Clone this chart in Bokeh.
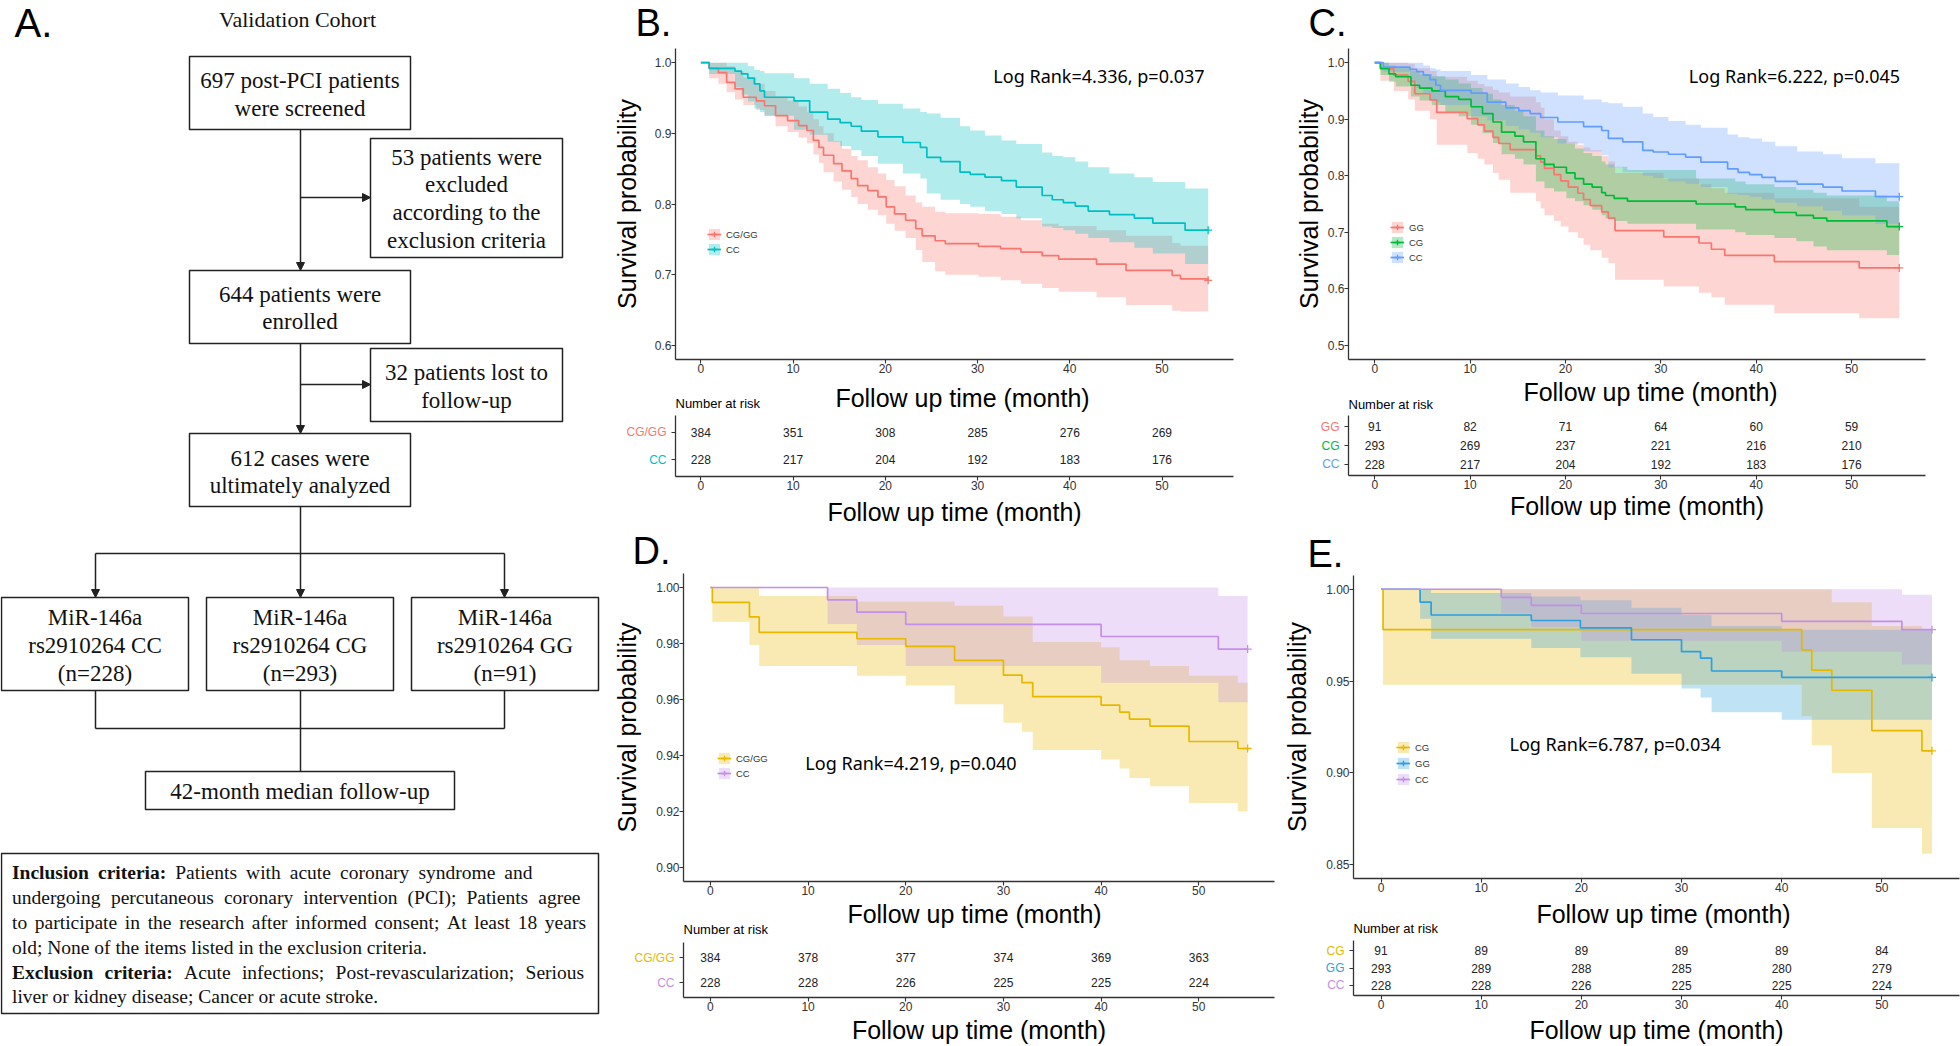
from bokeh.plotting import figure
from bokeh.models import (Range1d, FixedTicker, NumeralTickFormatter, Label, Legend,
                          LegendItem, Arrow, NormalHead)
from bokeh.layouts import row, column
from bokeh.embed import file_html
from bokeh.resources import INLINE
from bokeh.core.properties import value

SANS = "Liberation Sans"
SERIF = "Liberation Serif"
LR_FONT = "Noto Sans"
AXIS_COL = "#333333"
TICK_COL = "#333333"
X_RANGE = (-2.75, 57.75)
TIME_TICKS = [0, 10, 20, 30, 40, 50]
RISK_TIMES = [0, 10, 20, 30, 40, 50]
X_TITLE = "Follow up time (month)"
Y_TITLE = "Survival probability"

RED = "#F8766D"; TEAL = "#00BFC4"; GREEN = "#00BA38"; BLUE = "#619CFF"
GOLD = "#E7B800"; PURPLE = "#C38FE8"; SKY = "#2E9FDF"

# ---------------- survival data ----------------
B_CGGG_T = [0, 0.9, 1.9, 2.8, 3.7, 4.6, 6.0, 6.9, 8.1, 9.4, 10.6, 11.5, 12.2, 12.8, 13.3, 14.4, 15.3, 16.3, 17.0, 18.1,
            19.2, 20.1, 21.0, 22.2, 23.3, 24.0, 25.4, 26.5, 30.1, 32.5, 34.7, 37.0, 38.8, 42.9, 46.1, 51.1, 52.0, 55.0]
B_CGGG_S = [1.0, 0.992, 0.986, 0.972, 0.963, 0.951, 0.946, 0.939, 0.925, 0.918, 0.911, 0.904, 0.890, 0.880, 0.869, 0.857,
            0.847, 0.836, 0.826, 0.819, 0.810, 0.796, 0.786, 0.777, 0.765, 0.755, 0.748, 0.744, 0.740, 0.737, 0.732,
            0.727, 0.722, 0.715, 0.706, 0.699, 0.694, 0.692]
B_CGGG_HI = [1.0, 1.0, 1.0, 0.995, 0.987, 0.979, 0.970, 0.960, 0.952, 0.946, 0.938, 0.930, 0.920, 0.910, 0.900, 0.889,
             0.878, 0.868, 0.862, 0.852, 0.843, 0.834, 0.825, 0.812, 0.802, 0.796, 0.789, 0.787, 0.786, 0.782, 0.777,
             0.772, 0.769, 0.763, 0.755, 0.745, 0.741, 0.739]
B_CGGG_LO = [1.0, 0.978, 0.970, 0.958, 0.948, 0.940, 0.933, 0.925, 0.910, 0.902, 0.894, 0.886, 0.870, 0.858, 0.845, 0.832,
             0.820, 0.810, 0.800, 0.792, 0.784, 0.772, 0.762, 0.752, 0.735, 0.718, 0.705, 0.700, 0.697, 0.692, 0.687,
             0.681, 0.676, 0.668, 0.657, 0.649, 0.648, 0.647]
CC_T = [0, 0.9, 3.7, 4.4, 5.1, 5.8, 6.4, 6.9, 10.1, 11.8, 13.75, 15.1, 16.3, 17.4, 19.2, 21.9, 23.8, 24.5, 26.0, 28.1,
        29.2, 30.8, 32.6, 34.2, 37.0, 38.1, 39.3, 40.6, 42.0, 44.3, 47.0, 49.0, 52.5, 55.0]
CC_S = [1.0, 0.992, 0.988, 0.984, 0.978, 0.970, 0.960, 0.951, 0.946, 0.930, 0.920, 0.915, 0.910, 0.903, 0.895, 0.887,
        0.880, 0.866, 0.860, 0.845, 0.842, 0.838, 0.833, 0.824, 0.812, 0.806, 0.802, 0.797, 0.790, 0.785, 0.780, 0.773,
        0.763, 0.763]
CC_HI = [1.0, 1.0, 1.0, 1.0, 0.995, 0.990, 0.988, 0.985, 0.978, 0.970, 0.963, 0.957, 0.951, 0.947, 0.942, 0.935, 0.930,
         0.928, 0.922, 0.910, 0.904, 0.897, 0.890, 0.885, 0.873, 0.868, 0.866, 0.860, 0.852, 0.843, 0.838, 0.831,
         0.822, 0.820]
CC_LO = [1.0, 0.984, 0.965, 0.955, 0.945, 0.935, 0.930, 0.925, 0.905, 0.898, 0.888, 0.882, 0.876, 0.868, 0.857, 0.843,
         0.836, 0.815, 0.806, 0.800, 0.796, 0.790, 0.786, 0.780, 0.768, 0.766, 0.763, 0.758, 0.752, 0.746, 0.738,
         0.730, 0.715, 0.711]
C_GG_T = [0, 0.6, 2.0, 3.5, 4.2, 5.8, 6.5, 9.7, 10.8, 11.5, 12.4, 13.0, 14.2, 16.9, 17.4, 17.8, 18.8, 19.5, 20.3, 21.3,
          21.9, 22.6, 23.8, 24.5, 25.2, 30.3, 34.0, 35.3, 36.7, 41.9, 50.8, 55.0]
C_GG_S = [1.0, 0.989, 0.978, 0.967, 0.945, 0.934, 0.912, 0.901, 0.890, 0.879, 0.868, 0.857, 0.846, 0.835, 0.824, 0.813,
          0.802, 0.791, 0.780, 0.769, 0.758, 0.747, 0.736, 0.725, 0.703, 0.692, 0.681, 0.670, 0.659, 0.648, 0.637, 0.637]
C_GG_HI = [1.0, 1.0, 1.0, 0.998, 0.990, 0.985, 0.975, 0.968, 0.962, 0.958, 0.952, 0.947, 0.940, 0.930, 0.920, 0.900,
           0.880, 0.870, 0.860, 0.855, 0.850, 0.845, 0.835, 0.825, 0.805, 0.795, 0.785, 0.778, 0.770, 0.760, 0.745, 0.745]
C_GG_LO = [1.0, 0.968, 0.950, 0.935, 0.915, 0.900, 0.855, 0.840, 0.830, 0.820, 0.805, 0.793, 0.770, 0.755, 0.742, 0.730,
           0.720, 0.710, 0.700, 0.690, 0.678, 0.668, 0.655, 0.645, 0.616, 0.604, 0.593, 0.585, 0.572, 0.557, 0.548, 0.548]
C_CG_T = [0, 0.6, 1.5, 2.2, 3.8, 4.7, 6.0, 7.4, 8.8, 10.1, 11.3, 12.4, 13.3, 14.7, 15.6, 16.9, 17.8, 18.8, 20.1, 21.0,
          21.9, 22.8, 23.8, 24.2, 25.1, 26.5, 33.7, 37.8, 38.9, 41.9, 44.2, 46.0, 47.4, 53.7, 55.0]
C_CG_S = [1.0, 0.99, 0.98, 0.975, 0.96, 0.955, 0.95, 0.94, 0.935, 0.922, 0.91, 0.895, 0.877, 0.87, 0.86, 0.83, 0.82,
          0.815, 0.805, 0.795, 0.785, 0.78, 0.77, 0.765, 0.76, 0.755, 0.75, 0.745, 0.74, 0.735, 0.73, 0.725, 0.72,
          0.71, 0.71]
C_CG_HI = [1.0, 1.0, 0.995, 0.992, 0.985, 0.98, 0.976, 0.97, 0.963, 0.955, 0.945, 0.935, 0.925, 0.915, 0.905, 0.88,
           0.87, 0.865, 0.857, 0.848, 0.84, 0.835, 0.825, 0.82, 0.816, 0.81, 0.795, 0.79, 0.785, 0.78, 0.775, 0.77,
           0.765, 0.755, 0.755]
C_CG_LO = [1.0, 0.978, 0.966, 0.958, 0.94, 0.933, 0.925, 0.912, 0.905, 0.89, 0.875, 0.858, 0.838, 0.83, 0.82, 0.79,
           0.778, 0.772, 0.76, 0.755, 0.748, 0.74, 0.73, 0.725, 0.72, 0.715, 0.705, 0.70, 0.695, 0.69, 0.684, 0.675,
           0.668, 0.66, 0.66]
D_CGGG_T = [0, 0.2, 4.0, 5.0, 15.0, 20.0, 25.0, 30.0, 31.9, 33.0, 40.0, 41.9, 42.9, 45.0, 49.0, 54.0, 55.0]
D_CGGG_S = [1.0, 0.9947, 0.9895, 0.984, 0.9817, 0.979, 0.974, 0.9687, 0.966, 0.961, 0.958, 0.9555, 0.953, 0.9505,
            0.945, 0.9425, 0.9425]
D_CGGG_HI = [1.0, 1.0, 1.0, 0.997, 0.995, 0.995, 0.9935, 0.9896, 0.9896, 0.9805, 0.9787, 0.974, 0.974, 0.972, 0.9685,
             0.966, 0.966]
D_CGGG_LO = [1.0, 0.9878, 0.9795, 0.972, 0.9685, 0.965, 0.9583, 0.9517, 0.9485, 0.942, 0.9386, 0.9354, 0.932, 0.929,
             0.923, 0.92, 0.92]
CC2_T = [0, 12.0, 15.0, 20.0, 40.0, 52.0, 55.0]
CC2_S = [1.0, 0.9956, 0.9912, 0.9868, 0.9825, 0.978, 0.978]
CC2_HI = [1.0, 1.0, 1.0, 1.0, 1.0, 0.997, 0.997]
CC2_LO = [1.0, 0.987, 0.9795, 0.972, 0.966, 0.959, 0.959]
E_CG_T = [0, 0.2, 42.0, 43.0, 45.0, 49.0, 54.0, 55.0]
E_CG_S = [1.0, 0.978, 0.967, 0.956, 0.945, 0.923, 0.912, 0.912]
E_CG_HI = [1.0, 1.0, 1.0, 1.0, 0.993, 0.98, 0.978, 0.978]
E_CG_LO = [1.0, 0.948, 0.931, 0.915, 0.90, 0.87, 0.856, 0.856]
E_GG_T = [0, 3.9, 5.0, 15.0, 19.9, 25.0, 30.0, 31.9, 33.0, 40.0, 55.0]
E_GG_S = [1.0, 0.993, 0.986, 0.983, 0.979, 0.9725, 0.966, 0.9625, 0.9555, 0.952, 0.952]
E_GG_HI = [1.0, 1.0, 0.998, 0.996, 0.994, 0.99, 0.986, 0.986, 0.98, 0.978, 0.978]
E_GG_LO = [1.0, 0.984, 0.973, 0.968, 0.963, 0.954, 0.946, 0.941, 0.933, 0.929, 0.929]

# ---------------- risk tables ----------------
B_RISK_GROUPS = ["CG/GG", "CC"]
B_RISK = [[384, 351, 308, 285, 276, 269], [228, 217, 204, 192, 183, 176]]
C_RISK_GROUPS = ["GG", "CG", "CC"]
C_RISK = [[91, 82, 71, 64, 60, 59], [293, 269, 237, 221, 216, 210], [228, 217, 204, 192, 183, 176]]
D_RISK_GROUPS = ["CG/GG", "CC"]
D_RISK = [[384, 378, 377, 374, 369, 363], [228, 228, 226, 225, 225, 224]]
E_RISK_GROUPS = ["CG", "GG", "CC"]
E_RISK = [[91, 89, 89, 89, 89, 84], [293, 289, 288, 285, 280, 279], [228, 228, 226, 225, 225, 224]]

B_YTICKS = [0.6, 0.7, 0.8, 0.9, 1.0]
C_YTICKS = [0.5, 0.6, 0.7, 0.8, 0.9, 1.0]
D_YTICKS = [0.90, 0.92, 0.94, 0.96, 0.98, 1.00]
E_YTICKS = [0.85, 0.90, 0.95, 1.00]

LOGRANK = {"B": "Log Rank=4.336, p=0.037", "C": "Log Rank=6.222, p=0.045",
           "D": "Log Rank=4.219, p=0.040", "E": "Log Rank=6.787, p=0.034"}

# geometry (pixels of the page); ref_frame = frame box (l, r, t, b) used to place in-frame labels
PANELS = {
    "B": dict(letter="B.", x0=600, y0=0, header_h=44, fw=558, fh=311, bl=75, br=47, bt=4, bb=20, strip_h=34,
              ref_frame=(675, 1233, 48, 359), yr=(0.58, 1.02), yticks=B_YTICKS, yfmt="0.0", yls=11,
              letter_pos=(635, 22), lr_pos=(1098.5, 75), xt_pos=(962, 397), nar_pos=(675, 403),
              legend_loc=(32, 103), lsp=1,
              curves=[("CG/GG", RED, B_CGGG_T, B_CGGG_S, B_CGGG_LO, B_CGGG_HI),
                      ("CC", TEAL, CC_T, CC_S, CC_LO, CC_HI)],
              risk=dict(fh=61, bt=2, bb=52, xls=5, groups=B_RISK_GROUPS, counts=B_RISK, colors=[RED, TEAL])),
    "C": dict(letter="C.", x0=1280, y0=0, header_h=44, fw=577, fh=311, bl=68, br=35, bt=4, bb=20, strip_h=34,
              ref_frame=(1348, 1925, 48, 359), yr=(0.475, 1.025), yticks=C_YTICKS, yfmt="0.0", yls=2,
              letter_pos=(1308, 22), lr_pos=(1794, 75), xt_pos=(1650, 391), nar_pos=(1348, 404),
              legend_loc=(42, 95), lsp=1,
              curves=[("GG", RED, C_GG_T, C_GG_S, C_GG_LO, C_GG_HI),
                      ("CG", GREEN, C_CG_T, C_CG_S, C_CG_LO, C_CG_HI),
                      ("CC", BLUE, CC_T, CC_S, CC_LO, CC_HI)],
              risk=dict(fh=60, bt=2, bb=53, xls=0, groups=C_RISK_GROUPS, counts=C_RISK, colors=[RED, GREEN, BLUE])),
    "D": dict(letter="D.", x0=600, y0=528, header_h=44, fw=591, fh=308, bl=83, br=6, bt=1, bb=20, strip_h=39,
              ref_frame=(683, 1274, 573, 881), yr=(0.895, 1.005), yticks=D_YTICKS, yfmt="0.00", yls=12,
              letter_pos=(632, 550), lr_pos=(910.5, 762), xt_pos=(974, 913), nar_pos=(683, 929),
              legend_loc=(34, 101), lsp=1,
              curves=[("CG/GG", GOLD, D_CGGG_T, D_CGGG_S, D_CGGG_LO, D_CGGG_HI),
                      ("CC", PURPLE, CC2_T, CC2_S, CC2_LO, CC2_HI)],
              risk=dict(fh=55, bt=2, bb=49, xls=2, groups=D_RISK_GROUPS, counts=D_RISK, colors=[GOLD, PURPLE])),
    "E": dict(letter="E.", x0=1280, y0=528, header_h=47, fw=606, fh=303, bl=73, br=1, bt=0, bb=20, strip_h=40,
              ref_frame=(1353, 1961, 575, 878), yr=(0.8425, 1.0075), yticks=E_YTICKS, yfmt="0.00", yls=12,
              letter_pos=(1307, 553), lr_pos=(1615.5, 743), xt_pos=(1663, 913), nar_pos=(1353, 928),
              legend_loc=(43, 92), lsp=2,
              curves=[("CG", GOLD, E_CG_T, E_CG_S, E_CG_LO, E_CG_HI),
                      ("GG", SKY, E_GG_T, E_GG_S, E_GG_LO, E_GG_HI),
                      ("CC", PURPLE, CC2_T, CC2_S, CC2_LO, CC2_HI)],
              risk=dict(fh=55, bt=2, bb=51, xls=4, groups=E_RISK_GROUPS, counts=E_RISK, colors=[GOLD, SKY, PURPLE])),
}
RISK_BL = 8
LETTER_SIZE = "38px"


def px2data(px, py, spec):
    l, r, t, b = spec["ref_frame"]
    x0, x1 = X_RANGE
    y0, y1 = spec["yr"]
    return (x0 + (px - l) / (r - l) * (x1 - x0), y1 - (py - t) / (b - t) * (y1 - y0))


def style_axis(ax):
    ax.axis_line_color = AXIS_COL
    ax.axis_line_width = 1.3
    ax.major_tick_line_color = AXIS_COL
    ax.major_tick_line_width = 1.1
    ax.major_tick_out = 4
    ax.major_tick_in = 0
    ax.minor_tick_line_color = None
    ax.major_label_text_font = SANS
    ax.major_label_text_font_size = "12px"
    ax.major_label_text_color = TICK_COL
    ax.major_label_standoff = 0
    ax.axis_label_text_font = SANS
    ax.axis_label_text_font_size = "25px"
    ax.axis_label_text_font_style = "normal"
    ax.axis_label_text_color = "black"


def plain_fig(width, height, xr, yr):
    p = figure(width=width, height=height, x_range=Range1d(*xr), y_range=Range1d(*yr), min_border=0,
               x_axis_location=None, y_axis_location=None, output_backend="svg", toolbar_location=None,
               frame_align=False)
    p.outline_line_color = None
    p.grid.visible = False
    return p


def base_fig(fw, fh, bl, br, bt, bb, yr):
    p = figure(frame_width=fw, frame_height=fh, min_border_left=bl, min_border_right=br,
               min_border_top=bt, min_border_bottom=bb, x_range=Range1d(*X_RANGE), y_range=Range1d(*yr),
               output_backend="svg", toolbar_location=None, frame_align=False)
    p.grid.visible = False
    p.outline_line_color = None
    p.background_fill_color = "white"
    p.border_fill_color = "white"
    p.xaxis.ticker = FixedTicker(ticks=TIME_TICKS)
    for ax in list(p.xaxis) + list(p.yaxis):
        style_axis(ax)
    return p


def header_fig(spec):
    x0, y0 = spec["x0"], spec["y0"]
    w = spec["bl"] + spec["fw"] + spec["br"]
    p = plain_fig(w, spec["header_h"], (x0, x0 + w), (y0 + spec["header_h"], y0))
    p.text(x=[spec["letter_pos"][0]], y=[spec["letter_pos"][1]], text=[spec["letter"]], text_align="left",
           text_baseline="middle", text_font=value(SANS), text_font_size=LETTER_SIZE, text_color="black")
    return p


def km_main(key):
    spec = PANELS[key]
    p = base_fig(spec["fw"], spec["fh"], spec["bl"], spec["br"], spec["bt"], spec["bb"], spec["yr"])
    p.yaxis.ticker = FixedTicker(ticks=spec["yticks"])
    p.yaxis.formatter = NumeralTickFormatter(format=spec["yfmt"])
    p.yaxis.axis_label = Y_TITLE
    p.yaxis.axis_label_standoff = spec["yls"]
    bands, lines, marks = [], [], []
    for name, col, t, s, lo, hi in spec["curves"]:
        bands.append(p.varea_step(x=t, y1=lo, y2=hi, step_mode="after", fill_color=col, fill_alpha=0.3))
    for name, col, t, s, lo, hi in spec["curves"]:
        lines.append(p.step(x=t, y=s, mode="after", line_color=col, line_width=1.7))
    for name, col, t, s, lo, hi in spec["curves"]:
        marks.append(p.scatter(x=[t[-1]], y=[s[-1]], marker="cross", size=8, line_color=col, line_width=1.3))
    items = [LegendItem(label=c[0], renderers=[bands[i], lines[i], marks[i]]) for i, c in enumerate(spec["curves"])]
    leg = Legend(items=items, location=spec["legend_loc"], padding=0, margin=0, spacing=spec["lsp"],
                 glyph_width=14, glyph_height=14, label_height=14, label_standoff=5,
                 label_text_font=SANS, label_text_font_size="9.5px", label_text_color="#333333",
                 border_line_color=None, background_fill_alpha=0)
    p.add_layout(leg)
    rx, ry = px2data(*spec["lr_pos"], spec)
    p.add_layout(Label(x=rx, y=ry, text=LOGRANK[key], text_font=LR_FONT, text_font_size="18px",
                       text_align="center", text_baseline="middle", text_color="black"))
    return p


def strip_fig(spec):
    x0 = spec["x0"]
    w = spec["bl"] + spec["fw"] + spec["br"]
    top = spec["y0"] + spec["header_h"] + spec["bt"] + spec["fh"] + spec["bb"]
    p = plain_fig(w, spec["strip_h"], (x0, x0 + w), (top + spec["strip_h"], top))
    p.text(x=[spec["xt_pos"][0]], y=[spec["xt_pos"][1]], text=[X_TITLE], text_align="center",
           text_baseline="middle", text_font=value(SANS), text_font_size="25px", text_color="black")
    p.text(x=[spec["nar_pos"][0]], y=[spec["nar_pos"][1]], text=["Number at risk"], text_align="left",
           text_baseline="middle", text_font=value(SANS), text_font_size="13px", text_color="black")
    return p


def km_risk(key):
    spec = PANELS[key]
    rs = spec["risk"]
    n = len(rs["groups"])
    yr = (0.4, n + 0.6)
    p = base_fig(spec["fw"], rs["fh"], RISK_BL, spec["br"], rs["bt"], rs["bb"], yr)
    p.yaxis.ticker = FixedTicker(ticks=list(range(1, n + 1)))
    p.yaxis.major_label_overrides = {i: "" for i in range(1, n + 1)}
    p.xaxis.axis_label = X_TITLE
    p.xaxis.axis_label_standoff = rs["xls"]
    lab_w = spec["bl"] - RISK_BL
    lab = figure(frame_width=lab_w, frame_height=rs["fh"], min_border_left=0, min_border_right=0,
                 min_border_top=rs["bt"], min_border_bottom=rs["bb"], x_range=Range1d(0, lab_w),
                 y_range=Range1d(*yr), x_axis_location=None, y_axis_location=None,
                 output_backend="svg", toolbar_location=None, frame_align=False)
    lab.outline_line_color = None
    lab.grid.visible = False
    for i, (g, col, counts) in enumerate(zip(rs["groups"], rs["colors"], rs["counts"])):
        ypos = n - i
        p.text(x=RISK_TIMES, y=[ypos] * len(counts), text=[str(c) for c in counts],
               text_align="center", text_baseline="middle", text_font=value(SANS),
               text_font_size="12px", text_color="#222222")
        lab.text(x=[lab_w - 1], y=[ypos], text=[g], text_align="right", text_baseline="middle",
                 text_font=value(SANS), text_font_size="12px", text_color=col)
    return row(lab, p)


def panel(key):
    spec = PANELS[key]
    return column(header_fig(spec), km_main(key), strip_fig(spec), km_risk(key))


# ---------------- Panel A: flowchart ----------------
TR = {' ': 250, '!': 333, '(': 333, ')': 333, ',': 250, '-': 333, '.': 250, ':': 278, ';': 278, '=': 564,
      'A': 722, 'B': 667, 'C': 667, 'D': 722, 'E': 611, 'F': 556, 'G': 722, 'H': 722, 'I': 333, 'J': 389, 'K': 722,
      'L': 611, 'M': 889, 'N': 722, 'O': 722, 'P': 556, 'Q': 722, 'R': 667, 'S': 556, 'T': 611, 'U': 722, 'V': 722,
      'W': 944, 'X': 722, 'Y': 722, 'Z': 611, 'a': 444, 'b': 500, 'c': 444, 'd': 500, 'e': 444, 'f': 333, 'g': 500,
      'h': 500, 'i': 278, 'j': 278, 'k': 500, 'l': 278, 'm': 778, 'n': 500, 'o': 500, 'p': 500, 'q': 500, 'r': 333,
      's': 389, 't': 278, 'u': 500, 'v': 500, 'w': 722, 'x': 500, 'y': 500, 'z': 444}
TB = {' ': 250, ':': 333, 'I': 389, 'E': 667, 'n': 556, 'c': 444, 'l': 278, 'u': 556, 's': 389, 'i': 278, 'o': 500,
      'r': 444, 't': 333, 'e': 444, 'a': 500, 'x': 500}


def tw(s, bold, fs):
    tab = TB if bold else TR
    return sum(tab.get(ch, 500) for ch in s) / 1000.0 * fs


FLOW_BOXES = [(189, 410, 56, 129), (370, 562, 138, 257), (189, 410, 270, 343), (370, 562, 348, 421),
              (189, 410, 433, 506), (1, 188, 597, 690), (206, 393, 597, 690), (411, 598, 597, 690),
              (145, 454, 771, 809), (1, 598, 853, 1013)]
FLOW_TEXT = [(299.5, 80, "697 post-PCI patients"), (299.5, 108, "were screened"),
             (466, 157, "53 patients were"), (466, 184, "excluded"), (466, 212, "according to the"),
             (466, 240, "exclusion criteria"),
             (299.5, 294, "644 patients were"), (299.5, 321, "enrolled"),
             (466, 372, "32 patients lost to"), (466, 400, "follow-up"),
             (299.5, 458, "612 cases were"), (299.5, 485, "ultimately analyzed"),
             (94.5, 617, "MiR-146a"), (94.5, 645, "rs2910264 CC"), (94.5, 673, "(n=228)"),
             (299.5, 617, "MiR-146a"), (299.5, 645, "rs2910264 CG"), (299.5, 673, "(n=293)"),
             (504.5, 617, "MiR-146a"), (504.5, 645, "rs2910264 GG"), (504.5, 673, "(n=91)"),
             (299.5, 791, "42-month median follow-up")]
FLOW_SEGS = [(300, 506, 300, 553), (95, 553, 504, 553), (95, 690, 95, 728), (504, 690, 504, 728),
             (300, 690, 300, 771), (95, 728, 504, 728)]
FLOW_ARROWS = [(300, 129, 300, 270), (300, 197, 370, 197), (300, 343, 300, 433), (300, 384, 370, 384),
               (95, 553, 95, 597), (300, 553, 300, 597), (504, 553, 504, 597)]
CRIT_LINES = [
    ([("Inclusion", True), ("criteria:", True)] + [(w, False) for w in "Patients with acute coronary syndrome and".split()], 872, 532),
    ([(w, False) for w in "undergoing percutaneous coronary intervention (PCI); Patients agree".split()], 897, 580),
    ([(w, False) for w in "to participate in the research after informed consent; At least 18 years".split()], 922, 585.5),
    ([(w, False) for w in "old; None of the items listed in the exclusion criteria.".split()], 947, None),
    ([("Exclusion", True), ("criteria:", True)] + [(w, False) for w in "Acute infections; Post-revascularization; Serious".split()], 972, 583.6),
    ([(w, False) for w in "liver or kidney disease; Cancer or acute stroke.".split()], 996, None),
]

fa = plain_fig(600, 1046, (0, 600), (1046, 0))
fa.quad(left=[b[0] for b in FLOW_BOXES], right=[b[1] for b in FLOW_BOXES],
        top=[b[2] for b in FLOW_BOXES], bottom=[b[3] for b in FLOW_BOXES],
        fill_color=None, line_color="#222222", line_width=1.5)
fa.segment(x0=[s[0] for s in FLOW_SEGS], y0=[s[1] for s in FLOW_SEGS], x1=[s[2] for s in FLOW_SEGS],
           y1=[s[3] for s in FLOW_SEGS], line_color="#222222", line_width=1.5)
for a in FLOW_ARROWS:
    fa.add_layout(Arrow(end=NormalHead(size=8, fill_color="#222222", line_color="#222222"),
                        x_start=a[0], y_start=a[1], x_end=a[2], y_end=a[3],
                        line_color="#222222", line_width=1.5))
fa.text(x=[t[0] for t in FLOW_TEXT], y=[t[1] for t in FLOW_TEXT], text=[t[2] for t in FLOW_TEXT],
        text_align="center", text_baseline="middle", text_font=value(SERIF), text_font_size="23px",
        text_color="#111111")
fa.text(x=[14], y=[22], text=["A."], text_align="left", text_baseline="middle",
        text_font=value(SANS), text_font_size="40px", text_color="black")
fa.text(x=[297], y=[19], text=["Validation Cohort"], text_align="center", text_baseline="middle",
        text_font=value(SERIF), text_font_size="22px", text_color="#111111")

CFS = 19.5
LEFT = 11.5
reg_x, reg_y, reg_t, bold_x, bold_y, bold_t = [], [], [], [], [], []
for words, yline, right in CRIT_LINES:
    widths = [tw(w, b, CFS) for w, b in words]
    if right is None:
        gap = 0.25 * CFS
    else:
        gap = (right - LEFT - sum(widths)) / (len(words) - 1)
    xpos = LEFT
    for (w, b), wd in zip(words, widths):
        if b:
            bold_x.append(xpos); bold_y.append(yline); bold_t.append(w)
        else:
            reg_x.append(xpos); reg_y.append(yline); reg_t.append(w)
        xpos += wd + gap
fa.text(x=reg_x, y=reg_y, text=reg_t, text_align="left", text_baseline="middle",
        text_font=value(SERIF), text_font_size=f"{CFS}px", text_color="#111111")
fa.text(x=bold_x, y=bold_y, text=bold_t, text_align="left", text_baseline="middle",
        text_font=value(SERIF), text_font_size=f"{CFS}px", text_font_style="bold", text_color="#111111")

# ---------------- layout ----------------
layout = row(fa, column(row(panel("B"), panel("C")), row(panel("D"), panel("E"))))

open("out.html", "w").write(file_html(layout, INLINE))
